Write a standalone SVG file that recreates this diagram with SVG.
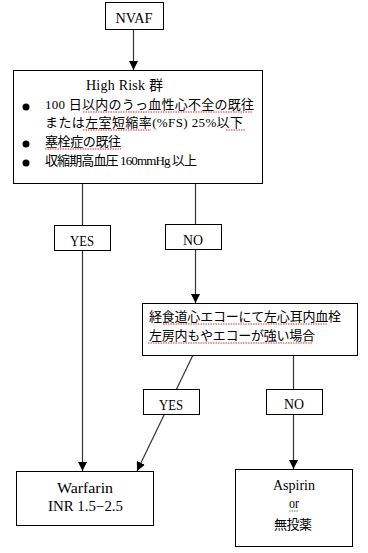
<svg xmlns="http://www.w3.org/2000/svg" width="368" height="553" viewBox="0 0 368 553">
<defs>
<marker id="ah" viewBox="0 0 10 10" refX="10" refY="5" markerWidth="9" markerHeight="9" markerUnits="userSpaceOnUse" orient="auto">
<path d="M0,0 L10,5 L0,10 z" fill="#000"/>
</marker>
<style>
.box{fill:#fff;stroke:#000;stroke-width:1}
.shadow{fill:#888}
.conn{stroke:#333;stroke-width:1.2;fill:none}
.lat{font-family:"Liberation Serif","Noto Sans CJK JP",serif;font-size:14px;fill:#000}
.jp{font-family:"Liberation Serif","Noto Sans CJK JP",serif;font-size:13px;fill:#000}
.red{stroke:#e03030;stroke-width:1;fill:none;stroke-dasharray:1.5 1}
.grn{stroke:#3a9a3a;stroke-width:1;fill:none;stroke-dasharray:1.5 1}
</style>
</defs>
<rect width="368" height="553" fill="#fff"/>
<g id="connectors">
<path class="conn" d="M133.5,29 V70" marker-end="url(#ah)"/>
<path class="conn" d="M82.5,183 V471" marker-end="url(#ah)"/>
<path class="conn" d="M195.5,183 V303" marker-end="url(#ah)"/>
<path class="conn" d="M193,355 L137,471" marker-end="url(#ah)"/>
<path class="conn" d="M293.5,355 V469" marker-end="url(#ah)"/>
</g>
<g id="nvaf">
<rect class="box" x="105.5" y="2.5" width="58" height="27"/>
<text class="lat" x="134" y="23" text-anchor="middle" textLength="37" lengthAdjust="spacingAndGlyphs">NVAF</text>
</g>
<g id="highrisk">
<rect class="box" x="13.5" y="70.5" width="249" height="113"/>
<text class="lat" x="86" y="90" textLength="77" lengthAdjust="spacing">High Risk 群</text>
<circle cx="26" cy="107" r="3.5" fill="#000"/>
<circle cx="26" cy="144" r="3.5" fill="#000"/>
<circle cx="26" cy="163" r="3.5" fill="#000"/>
<text class="jp" x="45" y="109" textLength="209" lengthAdjust="spacing">100 日以内のうっ血性心不全の既往</text>
<text class="jp" x="45" y="127" textLength="198" lengthAdjust="spacing">または左室短縮率(%FS) 25%以下</text>
<text class="jp" x="45" y="146" textLength="76" lengthAdjust="spacing">塞栓症の既往</text>
<text class="jp" x="45" y="165" textLength="152" lengthAdjust="spacing">収縮期高血圧 160mmHg 以上</text>
<path class="red" d="M83,112 H253"/>
<path class="red" d="M83,130 H151 M226,130 H246"/>
<path class="red" d="M45,149 H121"/>
</g>
<g id="yes1">
<rect class="box" x="54.5" y="225.5" width="56" height="25"/>
<text class="lat" x="82" y="246" text-anchor="middle" textLength="24" lengthAdjust="spacingAndGlyphs">YES</text>
</g>
<g id="no1">
<rect class="box" x="165.5" y="224.5" width="56" height="25"/>
<text class="lat" x="193" y="245" text-anchor="middle" textLength="20" lengthAdjust="spacingAndGlyphs">NO</text>
</g>
<g id="tee">
<rect class="box" x="142.5" y="303.5" width="215" height="52"/>
<text class="jp" x="149" y="321" textLength="192" lengthAdjust="spacing">経食道心エコーにて左心耳内血栓</text>
<text class="jp" x="149" y="340" textLength="166" lengthAdjust="spacing">左房内もやエコーが強い場合</text>
<path class="red" d="M163,324 H328"/>
<path class="red" d="M148,343 H313"/>
</g>
<g id="yes2">
<rect class="box" x="143.5" y="389.5" width="56" height="25"/>
<text class="lat" x="171" y="410" text-anchor="middle" textLength="24" lengthAdjust="spacingAndGlyphs">YES</text>
</g>
<g id="no2">
<rect class="box" x="266.5" y="389.5" width="56" height="25"/>
<text class="lat" x="294" y="409" text-anchor="middle" textLength="20" lengthAdjust="spacingAndGlyphs">NO</text>
</g>
<g id="warfarin">
<rect class="box" x="16.5" y="471.5" width="137" height="54"/>
<text class="lat" x="85" y="493" text-anchor="middle" textLength="56" lengthAdjust="spacingAndGlyphs">Warfarin</text>
<text class="lat" x="85.5" y="511" text-anchor="middle" textLength="75" lengthAdjust="spacingAndGlyphs">INR 1.5−2.5</text>
</g>
<g id="aspirin">
<rect class="box" x="235.5" y="469.5" width="117" height="77"/>
<text class="lat" x="294" y="490" text-anchor="middle" textLength="42" lengthAdjust="spacingAndGlyphs">Aspirin</text>
<text class="lat" x="294" y="508" text-anchor="middle" textLength="10" lengthAdjust="spacingAndGlyphs">or</text>
<path class="grn" d="M289,511 H299"/>
<text class="jp" x="293" y="529" text-anchor="middle" textLength="38" lengthAdjust="spacing">無投薬</text>
</g>
</svg>
